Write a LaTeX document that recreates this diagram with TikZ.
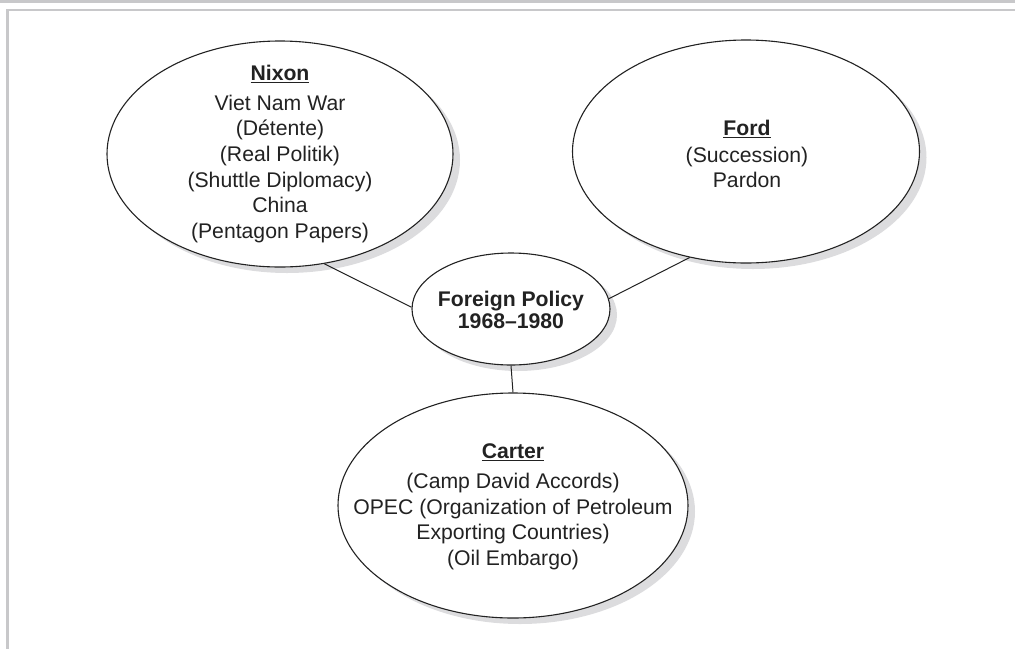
\documentclass[tikz,border=0pt]{standalone}
\usepackage{fontspec}
\setmainfont{Liberation Sans}
\usetikzlibrary{shapes.geometric,shadows}
\definecolor{framegray}{HTML}{C8C8CA}
\definecolor{shadegray}{HTML}{DCDCDE}
\definecolor{inkline}{HTML}{222222}
\begin{document}
\begin{tikzpicture}[x=1pt,y=-1pt,
  bubble/.style={ellipse, draw=inkline, line width=1.1pt, fill=white, inner sep=0pt,
    drop shadow={shadow xshift=7pt, shadow yshift=-6pt, fill=shadegray, opacity=1}},
  txt/.style={align=center, inner sep=0pt, text=inkline,
    font=\fontsize{21.2}{25.7}\selectfont},
  link/.style={draw=inkline, line width=1pt}]
\useasboundingbox (0,0) rectangle (1015,649);
% page frame
\fill[framegray] (0,0) rectangle (1015,3);
\fill[framegray] (6,8.5) rectangle (1015,10.5);
\fill[framegray] (6,8.5) rectangle (8.5,649);

% bubbles
\node[bubble, minimum width=346pt, minimum height=226pt] (nixon) at (280,154) {};
\node[bubble, minimum width=347pt, minimum height=223pt] (ford) at (746,151.5) {};
\node[bubble, minimum width=198pt, minimum height=112pt] (policy) at (511,309) {};
\node[bubble, minimum width=350pt, minimum height=225pt] (carter) at (513,505.5) {};

% texts
\node[txt] (nixontxt) at (280,154) {\underline{\textbf{Nixon}}\\[4pt]
  Viet Nam War\\(Détente)\\(Real Politik)\\(Shuttle Diplomacy)\\China\\(Pentagon Papers)};
\node[txt] (fordtxt) at (747,154) {\underline{\textbf{Ford}}\\[1pt]
  (Succession)\\Pardon};
\node[txt, font=\fontsize{21.2}{22.5}\selectfont\bfseries] (policytxt) at (511,310)
  {Foreign Policy\\1968--1980};
\node[txt] (cartertxt) at (513,507) {\underline{\textbf{Carter}}\\[4pt]
  (Camp David Accords)\\OPEC (Organization of Petroleum\\Exporting Countries)\\(Oil Embargo)};

% connectors
\draw[link] (nixon.-68.7) -- (policy.179);
\draw[link] (ford.-118) -- (policy.6);
\draw[link] (policy.south) -- (carter.north);
\end{tikzpicture}
\end{document}
